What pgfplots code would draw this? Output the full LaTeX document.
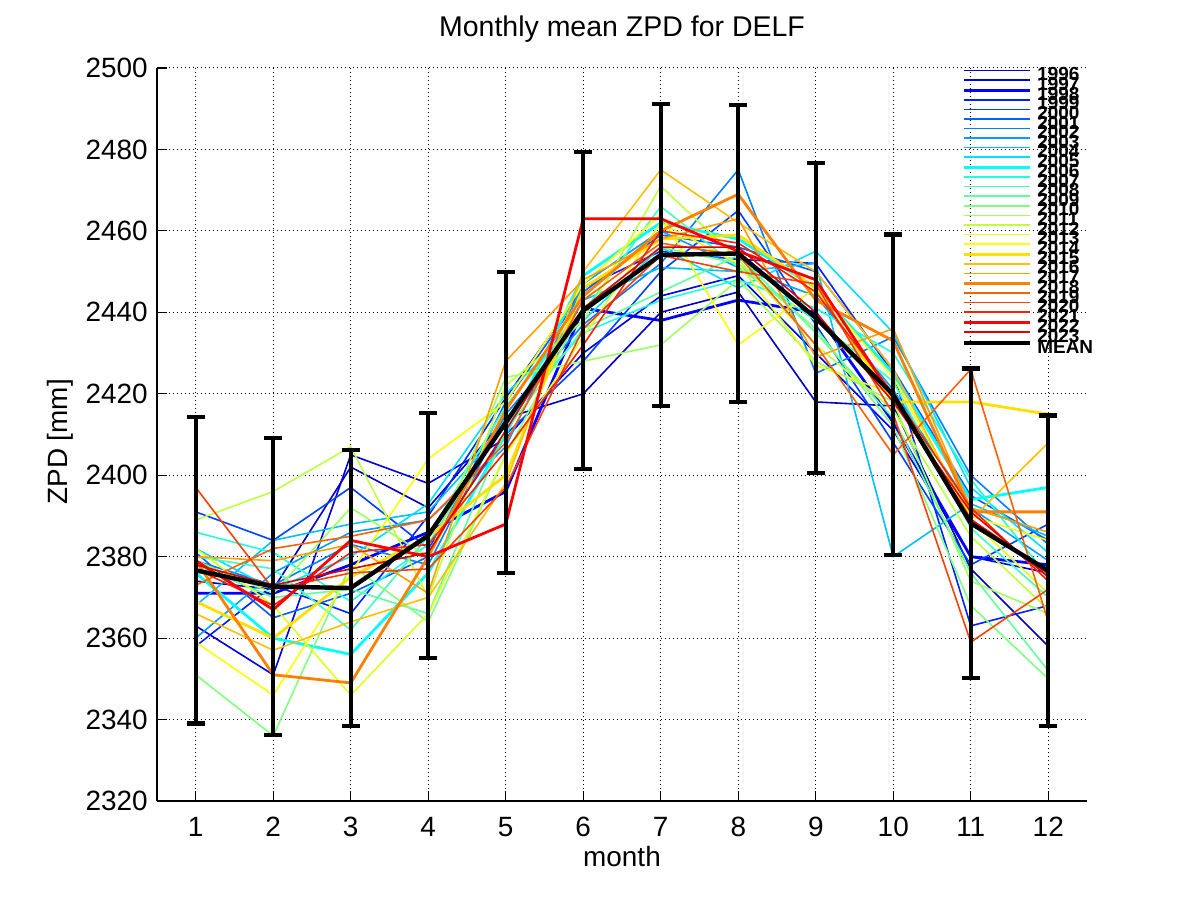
\documentclass[border=0pt]{standalone}
\usepackage{pgfplots}
\pgfplotsset{compat=1.18}
\usepackage{pgfplotstable}
\usepackage{fontspec}
\setmainfont{Liberation Sans}

\definecolor{c1996}{rgb}{0,0,0.75}
\definecolor{c1997}{rgb}{0,0,0.875}
\definecolor{c1998}{rgb}{0,0,1}
\definecolor{c1999}{rgb}{0,0.125,1}
\definecolor{c2000}{rgb}{0,0.25,1}
\definecolor{c2001}{rgb}{0,0.375,1}
\definecolor{c2002}{rgb}{0,0.5,1}
\definecolor{c2003}{rgb}{0,0.625,1}
\definecolor{c2004}{rgb}{0,0.75,1}
\definecolor{c2005}{rgb}{0,0.875,1}
\definecolor{c2006}{rgb}{0,1,1}
\definecolor{c2007}{rgb}{0.125,1,0.875}
\definecolor{c2008}{rgb}{0.25,1,0.75}
\definecolor{c2009}{rgb}{0.375,1,0.625}
\definecolor{c2010}{rgb}{0.5,1,0.5}
\definecolor{c2011}{rgb}{0.625,1,0.375}
\definecolor{c2012}{rgb}{0.75,1,0.25}
\definecolor{c2013}{rgb}{0.875,1,0.125}
\definecolor{c2014}{rgb}{1,1,0}
\definecolor{c2015}{rgb}{1,0.875,0}
\definecolor{c2016}{rgb}{1,0.75,0}
\definecolor{c2017}{rgb}{1,0.625,0}
\definecolor{c2018}{rgb}{1,0.5,0}
\definecolor{c2019}{rgb}{1,0.375,0}
\definecolor{c2020}{rgb}{1,0.25,0}
\definecolor{c2021}{rgb}{1,0.125,0}
\definecolor{c2022}{rgb}{1,0,0}
\definecolor{c2023}{rgb}{0.875,0,0}

\pgfplotstableread{
m v e
1 2376.65 37.65
2 2372.65 36.45
3 2372.3 33.9
4 2385.2 30.1
5 2412.95 36.95
6 2440.45 38.95
7 2454.1 37.1
8 2454.45 36.45
9 2438.65 38.05
10 2419.75 39.35
11 2388.2 38.0
12 2376.55 38.15
}\meandata

\begin{document}
\begin{tikzpicture}
\path (-78.5bp,-50bp) rectangle (522bp,400.5bp);
\begin{axis}[
  at={(0,0)}, anchor=south west,
  scale only axis, width=465bp, height=366.5bp,
  xmin=0.5, xmax=12.5, ymin=2320, ymax=2500,
  xtick={1,2,...,12}, ytick={2320,2340,...,2500},
  axis x line*=bottom, axis y line*=left,
  axis line style={line width=0.6bp},
  tick align=inside, major tick length=5bp,
  tick style={line width=0.6bp, black},
  grid=major,
  grid style={black, line width=0.5bp, dash pattern=on 0.5bp off 1.5bp},
  /pgf/number format/assume math mode=true,
  /pgf/number format/1000 sep={},
  tick label style={font=\fontsize{14}{14}\selectfont, inner sep=0pt},
  xticklabel style={anchor=north, yshift=-8bp},
  yticklabel style={anchor=east, xshift=-4.5bp},
  title={Monthly mean ZPD for DELF},
  title style={font=\fontsize{14.3}{14.3}\selectfont, at={(axis description cs:0.5,1.0273)}, anchor=base, inner sep=0pt},
  xlabel={month},
  xlabel style={font=\fontsize{14}{14}\selectfont, at={(axis description cs:0.5,-0.0887)}, anchor=base, inner sep=0pt},
  ylabel={ZPD [mm]},
  ylabel style={font=\fontsize{14}{14}\selectfont, at={(axis description cs:-0.0957,0.49)}, anchor=base, inner sep=0pt},
  legend cell align=left,
  legend image code/.code={\draw[#1] (0bp,3.5bp) -- (33bp,3.5bp);},
  legend style={at={(axis description cs:0.8656,0.9977)}, anchor=north west,
    draw=none, fill=none, inner sep=0pt, outer sep=0pt, row sep=-1.55bp, column sep=2.5bp,
    font=\bfseries\fontsize{9.5}{9.5}\selectfont,
    nodes={inner sep=0pt, text height=4bp, text depth=0.875bp}},
  yr/.style={line width=0.8bp, mark=none},
  yrt/.style={line width=1.4bp, mark=none},
]
\addplot[yr, c1996] coordinates {(1,2374)(2,2372)(3,2402)(4,2392)(5,2414)(6,2420)(7,2440)(8,2445)(9,2418)(10,2417)(11,2377)(12,2358)}; \addlegendentry{1996}
\addplot[yr, c1997] coordinates {(1,2363)(2,2351)(3,2405)(4,2398)(5,2409)(6,2430)(7,2444)(8,2449)(9,2430)(10,2411)(11,2380)(12,2376)}; \addlegendentry{1997}
\addplot[yrt, c1998] coordinates {(1,2371)(2,2371)(3,2378)(4,2386)(5,2396)(6,2441)(7,2438)(8,2443)(9,2440)(10,2413)(11,2380)(12,2378)}; \addlegendentry{1998}
\addplot[yr, c1999] coordinates {(1,2358)(2,2373)(3,2366)(4,2390)(5,2419)(6,2446)(7,2455)(8,2453)(9,2452)(10,2425)(11,2363)(12,2368)}; \addlegendentry{1999}
\addplot[yr, c2000] coordinates {(1,2391)(2,2384)(3,2397)(4,2382)(5,2410)(6,2428)(7,2450)(8,2465)(9,2437)(10,2408)(11,2378)(12,2388)}; \addlegendentry{2000}
\addplot[yr, c2001] coordinates {(1,2381)(2,2365)(3,2371)(4,2380)(5,2418)(6,2445)(7,2459)(8,2456)(9,2450)(10,2426)(11,2395)(12,2384)}; \addlegendentry{2001}
\addplot[yr, c2002] coordinates {(1,2379)(2,2373)(3,2383)(4,2378)(5,2415)(6,2437)(7,2452)(8,2475)(9,2425)(10,2434)(11,2400)(12,2383)}; \addlegendentry{2002}
\addplot[yr, c2003] coordinates {(1,2360)(2,2376)(3,2386)(4,2389)(5,2407)(6,2447)(7,2460)(8,2451)(9,2444)(10,2421)(11,2392)(12,2379)}; \addlegendentry{2003}
\addplot[yr, c2004] coordinates {(1,2368)(2,2384)(3,2388)(4,2391)(5,2412)(6,2443)(7,2451)(8,2450)(9,2452)(10,2380)(11,2393)(12,2385)}; \addlegendentry{2004}
\addplot[yr, c2005] coordinates {(1,2382)(2,2372)(3,2380)(4,2393)(5,2420)(6,2438)(7,2456)(8,2446)(9,2455)(10,2435)(11,2397)(12,2381)}; \addlegendentry{2005}
\addplot[yrt, c2006] coordinates {(1,2376)(2,2360)(3,2356)(4,2376)(5,2410)(6,2449)(7,2462)(8,2458)(9,2446)(10,2425)(11,2394)(12,2397)}; \addlegendentry{2006}
\addplot[yr, c2007] coordinates {(1,2386)(2,2381)(3,2369)(4,2383)(5,2414)(6,2435)(7,2443)(8,2448)(9,2441)(10,2430)(11,2399)(12,2375)}; \addlegendentry{2007}
\addplot[yr, c2008] coordinates {(1,2380)(2,2377)(3,2362)(4,2385)(5,2417)(6,2440)(7,2466)(8,2451)(9,2438)(10,2423)(11,2387)(12,2370)}; \addlegendentry{2008}
\addplot[yr, c2009] coordinates {(1,2378)(2,2370)(3,2372)(4,2366)(5,2411)(6,2436)(7,2445)(8,2454)(9,2435)(10,2414)(11,2376)(12,2352)}; \addlegendentry{2009}
\addplot[yr, c2010] coordinates {(1,2351)(2,2336)(3,2378)(4,2364)(5,2405)(6,2441)(7,2456)(8,2452)(9,2436)(10,2412)(11,2368)(12,2350)}; \addlegendentry{2010}
\addplot[yr, c2011] coordinates {(1,2379)(2,2371)(3,2392)(4,2380)(5,2424)(6,2428)(7,2432)(8,2448)(9,2428)(10,2418)(11,2374)(12,2366)}; \addlegendentry{2011}
\addplot[yr, c2012] coordinates {(1,2389)(2,2396)(3,2407)(4,2370)(5,2422)(6,2438)(7,2471)(8,2453)(9,2432)(10,2416)(11,2385)(12,2367)}; \addlegendentry{2012}
\addplot[yr, c2013] coordinates {(1,2382)(2,2368)(3,2346)(4,2366)(5,2405)(6,2434)(7,2462)(8,2452)(9,2427)(10,2420)(11,2389)(12,2371)}; \addlegendentry{2013}
\addplot[yr, c2014] coordinates {(1,2359)(2,2346)(3,2376)(4,2404)(5,2418)(6,2447)(7,2464)(8,2432)(9,2446)(10,2424)(11,2390)(12,2384)}; \addlegendentry{2014}
\addplot[yrt, c2015] coordinates {(1,2369)(2,2360)(3,2375)(4,2385)(5,2400)(6,2446)(7,2458)(8,2459)(9,2446)(10,2418)(11,2418)(12,2415)}; \addlegendentry{2015}
\addplot[yr, c2016] coordinates {(1,2366)(2,2357)(3,2364)(4,2370)(5,2398)(6,2450)(7,2475)(8,2462)(9,2450)(10,2426)(11,2389)(12,2408)}; \addlegendentry{2016}
\addplot[yr, c2017] coordinates {(1,2380)(2,2379)(3,2383)(4,2371)(5,2428)(6,2448)(7,2458)(8,2463)(9,2429)(10,2436)(11,2392)(12,2386)}; \addlegendentry{2017}
\addplot[yrt, c2018] coordinates {(1,2379)(2,2351)(3,2349)(4,2380)(5,2416)(6,2444)(7,2460)(8,2469)(9,2443)(10,2433)(11,2391)(12,2391)}; \addlegendentry{2018}
\addplot[yr, c2019] coordinates {(1,2373)(2,2382)(3,2385)(4,2389)(5,2408)(6,2443)(7,2457)(8,2454)(9,2432)(10,2405)(11,2426)(12,2364)}; \addlegendentry{2019}
\addplot[yr, c2020] coordinates {(1,2397)(2,2372)(3,2376)(4,2377)(5,2397)(6,2436)(7,2454)(8,2450)(9,2447)(10,2415)(11,2359)(12,2372)}; \addlegendentry{2020}
\addplot[yr, c2021] coordinates {(1,2377)(2,2368)(3,2381)(4,2383)(5,2406)(6,2432)(7,2460)(8,2457)(9,2445)(10,2420)(11,2392)(12,2374)}; \addlegendentry{2021}
\addplot[yrt, c2022] coordinates {(1,2379)(2,2367)(3,2384)(4,2380)(5,2388)(6,2463)(7,2463)(8,2455)(9,2448)(10,2419)(11,2389)(12,2376)}; \addlegendentry{2022}
\addplot[yr, c2023] coordinates {(1,2378)(2,2373)(3,2377)(4,2381)(5,2411)(6,2441)(7,2456)(8,2456)(9,2440)(10,2418)(11,2391)(12,2375)}; \addlegendentry{2023}
\addplot[black, line width=2.2bp, mark=none,
  error bars/.cd, y dir=both, y explicit,
  error bar style={line width=2.2bp, black},
  error mark options={rotate=90, mark size=4.5bp, line width=2.2bp, black}]
  table[x=m, y=v, y error=e] {\meandata};
\addlegendentry{MEAN}
\end{axis}
\end{tikzpicture}
\end{document}
